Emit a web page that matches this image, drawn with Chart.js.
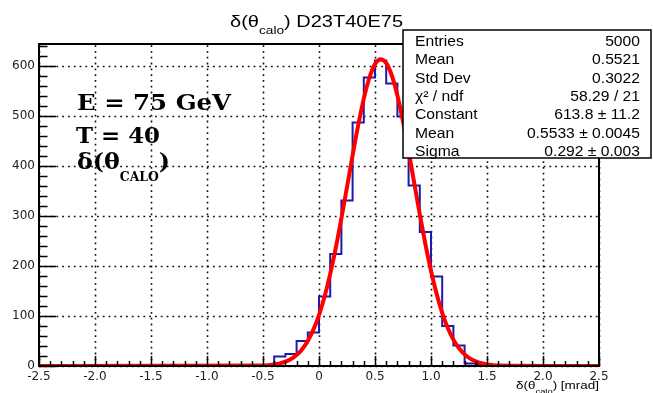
<!DOCTYPE html>
<html>
<head>
<meta charset="utf-8">
<script src="https://cdn.jsdelivr.net/npm/chart.js@4/dist/chart.umd.min.js"></script>
<style>
	html, body { margin: 0; padding: 0; background: #fff; }
	#wrap { width: 653px; height: 393px; }
</style>
</head>
<body>
<div id="wrap"><canvas id="chart-hist"></canvas></div>
<script>
// histogram: low edges of the 0.1 mrad bins (+ the last upper edge)
const BIN_EDGES = [
	-2.5, -2.4, -2.3, -2.2, -2.1, -2.0, -1.9, -1.8, -1.7, -1.6,
	-1.5, -1.4, -1.3, -1.2, -1.1, -1.0, -0.9, -0.8, -0.7, -0.6,
	-0.5, -0.4, -0.3, -0.2, -0.1, 0.0, 0.1, 0.2, 0.3, 0.4,
	0.5, 0.6, 0.7, 0.8, 0.9, 1.0, 1.1, 1.2, 1.3, 1.4,
	1.5, 1.6, 1.7, 1.8, 1.9, 2.0, 2.1, 2.2, 2.3, 2.4, 2.5,
];
const COUNTS = [
	0, 0, 0, 0, 0, 0, 0, 0, 0, 0,
	0, 0, 0, 0, 0, 0, 0, 0, 0, 0,
	0, 19, 24, 50, 67, 139, 224, 331, 487, 577,
	611, 565, 499, 361, 268, 179, 80, 41, 5, 2,
	0, 0, 0, 0, 0, 0, 0, 0, 0, 0,
];

// gaussian fit curve
const FIT_X = [
	-2.5, -0.5, -0.45, -0.4, -0.35, -0.3, -0.25, -0.2, -0.15, -0.1, -0.05,
	0.0, 0.05, 0.1, 0.15, 0.2, 0.25, 0.3, 0.35, 0.4, 0.45, 0.5,
	0.55, 0.6, 0.65, 0.7, 0.75, 0.8, 0.85, 0.9, 0.95, 1.0,
	1.05, 1.1, 1.15, 1.2, 1.25, 1.3, 1.35, 1.4, 1.45, 1.5,
	1.55, 1.6, 2.5,
];
const FIT_Y = [
	0, 0.9, 1.7, 3.0, 5.1, 8.6, 14.0, 22.0, 33.7, 50.2, 72.7,
	101.9, 139.0, 184.0, 236.5, 295.2, 357.8, 421.3, 481.7, 534.8, 576.5, 603.7,
	613.7, 606.0, 581.0, 541.0, 489.2, 429.6, 366.3, 303.4, 243.9, 190.5,
	144.4, 106.4, 76.1, 52.8, 35.6, 23.3, 14.8, 9.2, 5.5, 3.2,
	1.8, 1.0, 0,
];

const STATS_LABELS = ["Entries", "Mean", "Std Dev", "χ² / ndf", "Constant", "Mean", "Sigma"];
const STATS_VALUES = ["5000", "0.5521", "0.3022", "58.29 / 21", "613.8 ± 11.2", "0.5533 ± 0.0045", "0.292 ± 0.003"];

const SANS = '"Liberation Sans", Arial, sans-serif';
const SERIF = '"DejaVu Serif", serif';

// draw text runs squeezed/stretched horizontally to a given width
const drawRuns = (ctx, runs, x, y, width, align) => {
	let total = 0;
	runs.forEach((r) => {
		ctx.font = r.font;
		r.w = ctx.measureText(r.t).width;
		total += r.w;
	});
	const sx = width ? width / total : 1;
	let start = x;
	if (align === "right") start = x - total * sx;
	ctx.save();
	ctx.textAlign = "left";
	ctx.textBaseline = "alphabetic";
	ctx.fillStyle = "#000";
	ctx.translate(start, y);
	ctx.scale(sx, 1);
	let cx = 0;
	runs.forEach((r) => {
		ctx.font = r.font;
		ctx.fillText(r.t, cx, r.dy || 0);
		cx += r.w;
	});
	ctx.restore();
};

const rootFrame = {
	id: "rootFrame",
	beforeDatasetsDraw(chart) {
		const { ctx, chartArea: a, scales: { x, y } } = chart;
		ctx.save();
		ctx.strokeStyle = "#111";
		ctx.lineWidth = 1.6;
		ctx.setLineDash([1.8, 4]);
		x.ticks.forEach((t) => {
			const px = Math.round(x.getPixelForValue(t.value)) + 0.5;
			ctx.beginPath();
			ctx.moveTo(px, a.bottom);
			ctx.lineTo(px, a.top);
			ctx.stroke();
		});
		y.ticks.forEach((t) => {
			const py = Math.round(y.getPixelForValue(t.value)) + 0.5;
			ctx.beginPath();
			ctx.moveTo(a.left, py);
			ctx.lineTo(a.right, py);
			ctx.stroke();
		});
		ctx.restore();
	},
	afterDatasetsDraw(chart) {
		const { ctx, chartArea: a, scales: { x, y } } = chart;
		ctx.save();
		ctx.strokeStyle = "#000";
		ctx.lineWidth = 2;
		ctx.strokeRect(a.left, a.top, a.right - a.left, a.bottom - a.top);

		// ticks
		ctx.lineWidth = 1.5;
		ctx.beginPath();
		for (let v = 0; v <= y.max; v += 20) {
			const py = Math.round(y.getPixelForValue(v)) + 0.5;
			ctx.moveTo(a.left, py);
			ctx.lineTo(a.left + (v % 100 === 0 ? 17 : 8.5), py);
		}
		for (let i = 0; i <= 50; i++) {
			const v = -2.5 + i * 0.1;
			const px = Math.round(x.getPixelForValue(v)) + 0.5;
			ctx.moveTo(px, a.bottom);
			ctx.lineTo(px, a.bottom - (i % 5 === 0 ? 10 : 5));
		}
		ctx.stroke();

		// labels on the pad
		drawRuns(ctx, [{ t: "E = 75 GeV", font: "bold 23px " + SERIF }], 77, 110, 154);
		drawRuns(ctx, [{ t: "T = 40", font: "bold 23px " + SERIF }], 76, 142.5, 84);
		drawRuns(ctx, [
			{ t: "δ(θ", font: "bold 23px " + SERIF },
			{ t: "CALO", font: "bold 12px " + SERIF, dy: 12 },
			{ t: ")", font: "bold 23px " + SERIF },
		], 77, 168.5, 93);

		// title
		drawRuns(ctx, [
			{ t: "δ(θ", font: "16px " + SANS },
			{ t: "calo", font: "11px " + SANS, dy: 7 },
			{ t: ") D23T40E75", font: "16px " + SANS },
		], 230, 26.5, 173);

		// axis title
		drawRuns(ctx, [
			{ t: "δ(θ", font: "11.5px " + SANS },
			{ t: "calo", font: "8px " + SANS, dy: 5 },
			{ t: ") [mrad]", font: "11.5px " + SANS },
		], 599, 388.5, 83, "right");

		// stats box
		const bx = 403, by = 30, bw = 248, bh = 128;
		ctx.fillStyle = "#fff";
		ctx.fillRect(bx, by, bw, bh);
		ctx.lineWidth = 1.5;
		ctx.strokeStyle = "#000";
		ctx.strokeRect(bx, by, bw, bh);
		STATS_LABELS.forEach((lab, i) => {
			const base = by + 16 + i * 18.3;
			ctx.font = "14.5px " + SANS;
			const lw = ctx.measureText(lab).width * 1.08;
			drawRuns(ctx, [{ t: lab, font: "14.5px " + SANS }], 415, base, lw);
			const vw = ctx.measureText(STATS_VALUES[i]).width * 1.08;
			drawRuns(ctx, [{ t: STATS_VALUES[i], font: "14.5px " + SANS }], 640, base, vw, "right");
		});
		ctx.restore();
	},
};

const DATA = {
	datasets: [
		{
			label: "fit",
			data: FIT_X.map((v, i) => ({ x: v, y: FIT_Y[i] })),
			borderColor: "#ff0000",
			borderWidth: 4,
			pointRadius: 0,
			cubicInterpolationMode: "monotone",
			order: 0,
		},
		{
			label: "hist",
			data: BIN_EDGES.map((e, i) => ({ x: e, y: COUNTS[Math.min(i, COUNTS.length - 1)] })),
			borderColor: "#1c1cac",
			borderWidth: 2,
			pointRadius: 0,
			stepped: "before",
			order: 1,
		},
	],
};

const keepEvery = (step) => (scale) => {
	scale.ticks = scale.ticks.filter((t) => Math.abs(t.value / step - Math.round(t.value / step)) < 1e-6);
};

const TICK_FONT = { family: "DejaVu Sans", size: 12 };

const CONFIG = {
	type: "line",
	data: DATA,
	options: {
		responsive: true,
		maintainAspectRatio: false,
		animation: false,
		layout: { padding: { left: 0, right: 54, top: 44, bottom: 0 } },
		plugins: {
			legend: { display: false },
			title: { display: false },
			tooltip: { enabled: false },
		},
		scales: {
			x: {
				type: "linear",
				min: -2.5,
				max: 2.5,
				grid: { display: false, drawTicks: false },
				border: { display: false },
				ticks: { stepSize: 0.5, padding: 4, color: "#222", font: TICK_FONT, maxRotation: 0, autoSkip: false },
				afterBuildTicks: keepEvery(0.5),
				afterFit: (s) => { s.height = 27; },
			},
			y: {
				type: "linear",
				min: 0,
				max: 644,
				grid: { display: false, drawTicks: false },
				border: { display: false },
				ticks: { stepSize: 100, padding: 4, color: "#222", font: TICK_FONT },
				afterBuildTicks: keepEvery(100),
				afterFit: (s) => { s.width = 39; },
			},
		},
	},
	plugins: [rootFrame],
};

new Chart(document.getElementById("chart-hist"), CONFIG);
</script>
</body>
</html>
